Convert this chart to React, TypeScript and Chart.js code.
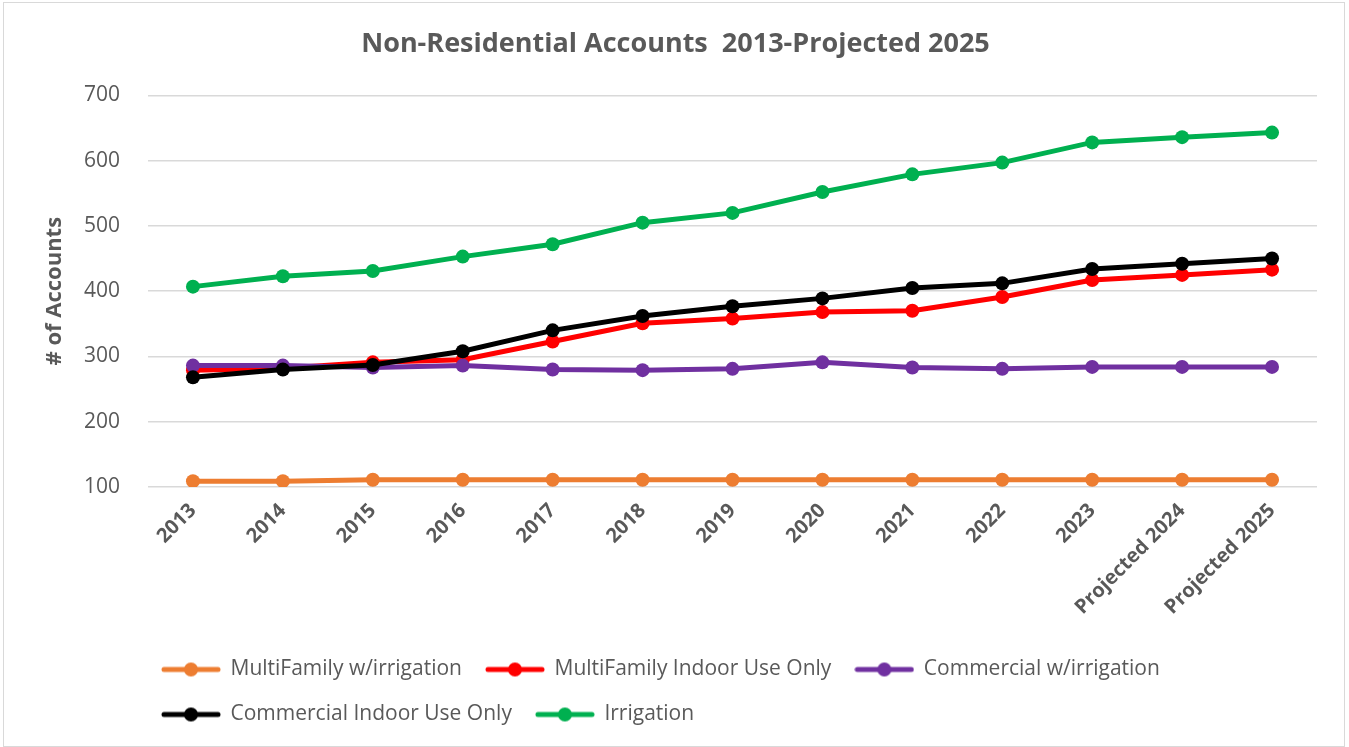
import React, { useEffect, useRef } from "react";
import { Chart, registerables } from "chart.js";

Chart.register(...registerables);

const categories = ["2013", "2014", "2015", "2016", "2017", "2018", "2019", "2020", "2021", "2022", "2023", "Projected 2024", "Projected 2025"];
const multiFamilyIrrigation = [109, 109, 111, 111, 111, 111, 111, 111, 111, 111, 111, 111, 111];
const multiFamilyIndoor = [279, 282, 291, 295, 323, 351, 358, 368, 370, 391, 417, 425, 433];
const commercialIrrigation = [286, 286, 283, 286, 280, 279, 281, 291, 283, 281, 284, 284, 284];
const commercialIndoor = [268, 280, 287, 308, 340, 362, 377, 389, 405, 412, 434, 442, 450];
const irrigation = [407, 423, 431, 453, 472, 505, 520, 552, 579, 597, 628, 636, 643];

const seriesNames = ["MultiFamily w/irrigation", "MultiFamily Indoor Use Only", "Commercial w/irrigation", "Commercial Indoor Use Only", "Irrigation"];
const seriesColors = ["#ED7D31", "#FF0000", "#7030A0", "#000000", "#00B050"];
const seriesValues = [multiFamilyIrrigation, multiFamilyIndoor, commercialIrrigation, commercialIndoor, irrigation];

const yTicks = [100, 200, 300, 400, 500, 600, 700];
const FONT = "'Open Sans', sans-serif";
const GRAY = "#595959";

function legendIcon(color: string): HTMLCanvasElement {
  const c = document.createElement("canvas");
  c.width = 60;
  c.height = 16;
  const ctx = c.getContext("2d")!;
  ctx.strokeStyle = color;
  ctx.lineWidth = 5;
  ctx.lineCap = "round";
  ctx.beginPath();
  ctx.moveTo(3, 8);
  ctx.lineTo(57, 8);
  ctx.stroke();
  ctx.fillStyle = color;
  ctx.beginPath();
  ctx.arc(30, 8, 7, 0, Math.PI * 2);
  ctx.fill();
  return c;
}

const boxShift = {
  id: "boxShift",
  afterLayout(chart: any) {
    if (chart.legend) {
      chart.legend.left -= 10;
    }
    if (chart.titleBlock) {
      chart.titleBlock.left += 15;
      chart.titleBlock.right += 15;
    }
  },
};

export default function App() {
  const canvasRef = useRef<HTMLCanvasElement | null>(null);

  useEffect(() => {
    document.body.style.margin = "0";
    const icons = seriesColors.map(legendIcon);
    const chart = new Chart(canvasRef.current!, {
      type: "line",
      data: {
        labels: categories,
        datasets: seriesNames.map((name, i) => ({
          label: name,
          data: seriesValues[i],
          borderColor: seriesColors[i],
          backgroundColor: seriesColors[i],
          borderWidth: 5,
          pointRadius: 7,
          pointHoverRadius: 7,
          pointBorderWidth: 0,
          tension: 0,
          order: seriesNames.length - i,
        })),
      },
      plugins: [boxShift],
      options: {
        animation: false,
        responsive: true,
        maintainAspectRatio: false,
        layout: { padding: { left: 0, right: 27, top: 0, bottom: 11 } },
        plugins: {
          tooltip: { enabled: false },
          title: {
            display: true,
            text: "Non-Residential Accounts  2013-Projected 2025",
            color: GRAY,
            font: { family: FONT, size: 27, weight: "bold" },
            padding: { top: 25, bottom: 35 },
          },
          legend: {
            position: "bottom",
            align: "start",
            fullSize: false,
            labels: {
              color: GRAY,
              font: { family: FONT, size: 21 },
              usePointStyle: true,
              pointStyleWidth: 58,
              padding: 24,
              generateLabels: (ch: any) =>
                ch.data.datasets.map((ds: any, i: number) => ({
                  text: ds.label,
                  fillStyle: seriesColors[i],
                  strokeStyle: seriesColors[i],
                  lineWidth: 0,
                  pointStyle: icons[i],
                  hidden: false,
                  datasetIndex: i,
                  fontColor: GRAY,
                })),
            },
          },
        },
        scales: {
          x: {
            offset: true,
            grid: { display: false },
            border: { display: false },
            afterFit: (scale: any) => {
              scale.height = 148;
            },
            ticks: {
              color: GRAY,
              font: { family: FONT, size: 20, weight: "bold" },
              minRotation: 45,
              maxRotation: 45,
              padding: 4,
              autoSkip: false,
            },
          },
          y: {
            min: 100,
            max: 700,
            afterBuildTicks: (scale: any) => {
              scale.ticks = yTicks.map((v) => ({ value: v }));
            },
            afterFit: (scale: any) => {
              scale.width = 144;
            },
            grid: { color: "#d9d9d9", lineWidth: 1.5, drawTicks: false },
            border: { display: false },
            ticks: {
              color: GRAY,
              font: { family: FONT, size: 21 },
              padding: 28,
            },
            title: {
              display: true,
              text: "# of Accounts",
              color: GRAY,
              font: { family: FONT, size: 22, weight: "bold" },
              padding: { top: 38, bottom: 0 },
            },
          },
        },
      },
    });
    return () => chart.destroy();
  }, []);

  return (
    <div
      style={{
        position: "absolute",
        left: 3,
        top: 2,
        width: 1342,
        height: 745,
        border: "1px solid #d9d9d9",
        boxSizing: "border-box",
        background: "#fff",
      }}
    >
      <canvas ref={canvasRef} />
    </div>
  );
}
